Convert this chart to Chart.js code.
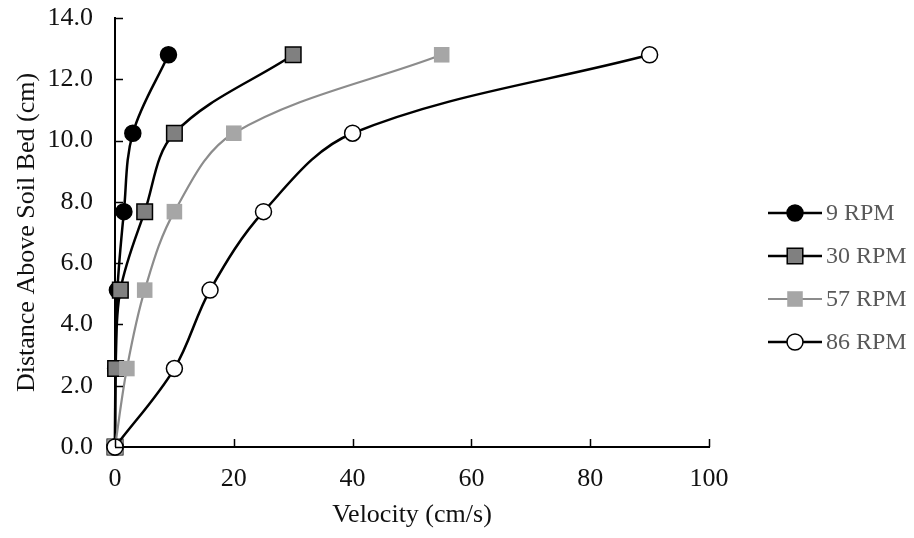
<!DOCTYPE html>
<html>
<head>
<meta charset="utf-8">
<title>Velocity profile</title>
<script src="https://cdn.jsdelivr.net/npm/chart.js@4.4.1/dist/chart.umd.min.js"></script>
<style>
  html, body { margin: 0; padding: 0; background: #ffffff; }
  #box { width: 914px; height: 538px; }
</style>
</head>
<body>
<div id="box"><canvas id="myChart" width="914" height="538"></canvas></div>
<script>
'use strict';

//height of each reading above the soil bed (cm)
let heights = [0, 2.56, 5.12, 7.68, 10.24, 12.8];
//velocity for every rotation speed (cm/s)
let rpm9 = [0, 0.1, 0.4, 1.5, 3, 9];
let rpm30 = [0, 0.1, 0.9, 5, 10, 30];
let rpm57 = [0, 2, 5, 10, 20, 55];
let rpm86 = [0, 10, 16, 25, 40, 90];
//names shown in the legend
let seriesNames = ['9 RPM', '30 RPM', '57 RPM', '86 RPM'];
//tick labels
let xTicks = [0, 20, 40, 60, 80, 100];
let yTicks = [0, 2, 4, 6, 8, 10, 12, 14];

let fontName = '"Liberation Serif", "Times New Roman", serif';

//make x,y pairs for one series
function makePoints(values) {
    let points = [];
    for (let i = 0; i < values.length; i++) {
        points.push({ x: values[i], y: heights[i] });
    }
    return points;
}

//style for each line
let styles = [
    { line: '#000000', fill: '#000000', border: '#000000', shape: 'circle', radius: 8, width: 2.5 },
    { line: '#000000', fill: '#808080', border: '#000000', shape: 'rect', radius: 11, width: 2.5 },
    { line: '#8c8c8c', fill: '#a6a6a6', border: '#a6a6a6', shape: 'rect', radius: 11, width: 2.2 },
    { line: '#000000', fill: '#ffffff', border: '#000000', shape: 'circle', radius: 8, width: 2.5 }
];

let allValues = [rpm9, rpm30, rpm57, rpm86];
let datasets = [];
for (let i = 0; i < allValues.length; i++) {
    let s = styles[i];
    datasets.push({
        label: seriesNames[i],
        data: makePoints(allValues[i]),
        showLine: true,
        borderColor: s.line,
        borderWidth: s.width,
        tension: 0.35,
        pointStyle: s.shape,
        pointRadius: s.radius,
        pointBackgroundColor: s.fill,
        pointBorderColor: s.border,
        pointBorderWidth: i == 2 ? 0 : 1.5,
        clip: false,
        //later series on top
        order: allValues.length - i
    });
}

//small tick marks pointing into the plot
let innerTicks = {
    id: 'innerTicks',
    afterDatasetsDraw(chart) {
        let ctx = chart.ctx;
        let xs = chart.scales.x;
        let ys = chart.scales.y;
        let area = chart.chartArea;
        ctx.save();
        ctx.strokeStyle = '#000000';
        ctx.lineWidth = 1.5;
        ctx.beginPath();
        for (let v of xTicks) {
            let px = Math.round(xs.getPixelForValue(v)) + 0.5;
            ctx.moveTo(px, area.bottom);
            ctx.lineTo(px, area.bottom - 8);
        }
        for (let v of yTicks) {
            let py = Math.round(ys.getPixelForValue(v)) + 0.5;
            ctx.moveTo(area.left, py);
            ctx.lineTo(area.left + 8, py);
        }
        ctx.stroke();
        ctx.restore();
    }
};

//legend on the right with line and marker
let sideLegend = {
    id: 'sideLegend',
    afterDraw(chart) {
        let ctx = chart.ctx;
        let left = 768;
        let top = 213;
        let gap = 43;
        ctx.save();
        for (let i = 0; i < chart.data.datasets.length; i++) {
            let ds = chart.data.datasets[i];
            let y = top + i * gap;
            ctx.strokeStyle = ds.borderColor;
            ctx.lineWidth = ds.borderWidth;
            ctx.beginPath();
            ctx.moveTo(left, y);
            ctx.lineTo(left + 54, y);
            ctx.stroke();
            ctx.fillStyle = ds.pointBackgroundColor;
            ctx.strokeStyle = ds.pointBorderColor;
            ctx.lineWidth = ds.pointBorderWidth;
            Chart.helpers.drawPoint(ctx, {
                pointStyle: ds.pointStyle,
                radius: ds.pointRadius,
                borderWidth: ds.pointBorderWidth,
                rotation: 0
            }, left + 27, y);
            ctx.fillStyle = '#595959';
            ctx.font = '24px ' + fontName;
            ctx.textBaseline = 'middle';
            ctx.fillText(ds.label, left + 58, y + 1);
        }
        ctx.restore();
    }
};

let ctx = document.getElementById('myChart').getContext('2d');
let chart = new Chart(ctx, {
    type: 'scatter',
    data: { datasets: datasets },
    options: {
        responsive: false,
        animation: false,
        events: [],
        layout: { padding: { top: 18, right: 205, bottom: 0, left: 0 } },
        plugins: {
            legend: { display: false },
            tooltip: { enabled: false }
        },
        scales: {
            x: {
                type: 'linear',
                min: 0,
                max: 100,
                afterBuildTicks: (scale) => { scale.ticks = xTicks.map(v => ({ value: v })); },
                afterFit: (scale) => { scale.height = 91; },
                border: { display: true, color: '#000000', width: 2 },
                grid: { display: false, drawTicks: false },
                ticks: {
                    color: '#111111',
                    padding: 17,
                    font: { family: fontName, size: 26 },
                    callback: (v) => String(v)
                },
                title: {
                    display: true,
                    text: 'Velocity (cm/s)',
                    color: '#111111',
                    font: { family: fontName, size: 26 },
                    padding: { top: 0, bottom: 7 }
                }
            },
            y: {
                type: 'linear',
                min: 0,
                max: 14,
                afterBuildTicks: (scale) => { scale.ticks = yTicks.map(v => ({ value: v })); },
                afterFit: (scale) => {
                    scale.width = 115;
                    //no extra room above the top label
                    scale.paddingTop = 0;
                    scale.paddingBottom = 0;
                },
                border: { display: true, color: '#000000', width: 2 },
                grid: { display: false, drawTicks: false },
                ticks: {
                    color: '#111111',
                    padding: 22,
                    font: { family: fontName, size: 26 },
                    callback: (v) => v.toFixed(1)
                },
                title: {
                    display: true,
                    text: 'Distance Above Soil Bed (cm)',
                    color: '#111111',
                    font: { family: fontName, size: 26 },
                    padding: { top: 12, bottom: 0 }
                }
            }
        }
    },
    plugins: [innerTicks, sideLegend]
});
</script>
</body>
</html>
